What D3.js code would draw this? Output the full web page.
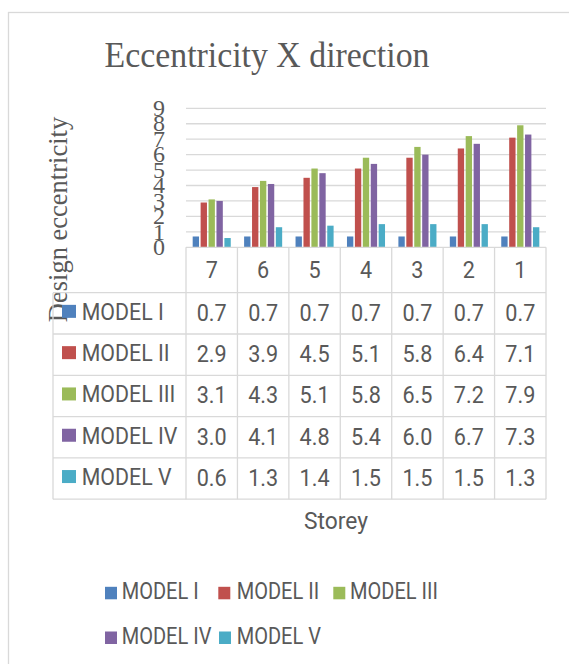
<!DOCTYPE html>
<html>
<head>
<meta charset="utf-8">
<script src="https://cdn.jsdelivr.net/npm/d3@7"></script>
<style>
  html, body { margin: 0; padding: 0; background: #fff; }
  svg { display: block; }
</style>
</head>
<body>
<svg id="chart" width="569" height="664"></svg>
<script>
// ---- data ----
const storeys = ["7", "6", "5", "4", "3", "2", "1"];
const seriesNames = ["MODEL I", "MODEL II", "MODEL III", "MODEL IV", "MODEL V"];
const model1 = [0.7, 0.7, 0.7, 0.7, 0.7, 0.7, 0.7];
const model2 = [2.9, 3.9, 4.5, 5.1, 5.8, 6.4, 7.1];
const model3 = [3.1, 4.3, 5.1, 5.8, 6.5, 7.2, 7.9];
const model4 = [3.0, 4.1, 4.8, 5.4, 6.0, 6.7, 7.3];
const model5 = [0.6, 1.3, 1.4, 1.5, 1.5, 1.5, 1.3];
const yTicks = [0, 1, 2, 3, 4, 5, 6, 7, 8, 9];
const colors = ["#4f81bd", "#c0504d", "#9bbb59", "#8064a2", "#4bacc6"];
const title = "Eccentricity X direction";
const yTitle = "Design eccentricity";
const xTitle = "Storey";

const seriesValues = [model1, model2, model3, model4, model5];
const series = seriesNames.map((n, i) => ({ name: n, values: seriesValues[i], color: colors[i] }));

// ---- layout ----
const svg = d3.select("#chart");
const textColor = "#595959";
const gridColor = "#d9d9d9";
const plotLeft = 186, plotRight = 546;
const plotTop = 108.3, plotBottom = 247.3;
const tableLeft = 53;
const headerBottom = 292.7;
const rowH = 41.3;

// outer border
svg.append("rect")
  .attr("x", 8.5).attr("y", 12.5).attr("width", 620).attr("height", 700)
  .attr("fill", "none").attr("stroke", gridColor).attr("stroke-width", 1.3);

// scales
const x0 = d3.scaleBand().domain(storeys).range([plotLeft, plotRight]).padding(0);
const bw = x0.bandwidth();
const x1 = d3.scaleBand().domain(seriesNames)
  .range([bw * 0.13, bw * 0.87]).paddingInner(0.2).paddingOuter(0);
const y = d3.scaleLinear().domain([0, 9]).range([plotBottom, plotTop]);

// title
svg.append("text")
  .attr("transform", "translate(267,66.5) scale(0.94,1)")
  .attr("text-anchor", "middle")
  .attr("font-family", "'Liberation Serif','Times New Roman',serif")
  .attr("font-size", 36)
  .attr("fill", textColor)
  .text(title);

// gridlines
svg.append("g").selectAll("line")
  .data(yTicks.filter(d => d > 0))
  .join("line")
  .attr("x1", plotLeft).attr("x2", plotRight)
  .attr("y1", d => y(d)).attr("y2", d => y(d))
  .attr("stroke", gridColor).attr("stroke-width", 1.3);

// y axis labels
const yAxis = d3.axisLeft(y).tickValues(yTicks).tickSize(0).tickPadding(21).tickFormat(d3.format("d"));
const yg = svg.append("g").attr("transform", `translate(${plotLeft},0)`).call(yAxis);
yg.select(".domain").remove();
yg.selectAll("text")
  .attr("font-family", "'Liberation Serif','Times New Roman',serif")
  .attr("font-size", 24)
  .attr("fill", textColor)
  .attr("dy", "0.3em");

// y title
svg.append("text")
  .attr("transform", "translate(67,219.5) rotate(-90)")
  .attr("text-anchor", "middle")
  .attr("font-family", "'Liberation Serif','Times New Roman',serif")
  .attr("font-size", 26.5)
  .attr("fill", textColor)
  .text(yTitle);

// bars
const groups = svg.append("g").selectAll("g")
  .data(storeys)
  .join("g")
  .attr("transform", d => `translate(${x0(d)},0)`);
groups.selectAll("rect")
  .data((d, i) => series.map(s => ({ name: s.name, value: s.values[i], color: s.color })))
  .join("rect")
  .attr("x", d => x1(d.name))
  .attr("width", x1.bandwidth())
  .attr("y", d => y(d.value))
  .attr("height", d => y(0) - y(d.value))
  .attr("fill", d => d.color);

// data table
const tbl = svg.append("g").attr("stroke", gridColor).attr("stroke-width", 1.3);
const rowYs = d3.range(series.length + 1).map(i => headerBottom + i * rowH);
const tableBottom = rowYs[rowYs.length - 1];
// header top line (axis baseline)
tbl.append("line").attr("x1", plotLeft).attr("x2", plotRight).attr("y1", plotBottom).attr("y2", plotBottom);
// row lines
tbl.selectAll("line.row").data(rowYs).join("line").attr("class", "row")
  .attr("x1", tableLeft).attr("x2", plotRight).attr("y1", d => d).attr("y2", d => d);
// column lines
const colXs = storeys.map(s => x0(s)).concat([plotRight]);
tbl.selectAll("line.col").data(colXs).join("line").attr("class", "col")
  .attr("x1", d => d).attr("x2", d => d).attr("y1", plotBottom).attr("y2", tableBottom);
tbl.append("line").attr("x1", tableLeft).attr("x2", tableLeft).attr("y1", headerBottom).attr("y2", tableBottom);

const sans = "Roboto, 'Open Sans', sans-serif";
// header categories
svg.append("g").selectAll("text")
  .data(storeys)
  .join("text")
  .attr("transform", d => `translate(${x0(d) + bw / 2},${(plotBottom + headerBottom) / 2 + 7.5}) scale(0.9,1)`)
  .attr("text-anchor", "middle")
  .attr("font-family", sans).attr("font-size", 24).attr("fill", textColor)
  .text(d => d);

// row labels with keys
const rows = svg.append("g").selectAll("g")
  .data(series)
  .join("g")
  .attr("transform", (d, i) => `translate(0,${rowYs[i] + rowH / 2})`);
rows.append("rect")
  .attr("x", 62).attr("y", -8.5).attr("width", 14).attr("height", 13)
  .attr("fill", d => d.color);
rows.append("text")
  .attr("transform", "translate(81.7,6.5) scale(0.89,1)")
  .attr("font-family", sans).attr("font-size", 24).attr("fill", textColor)
  .text(d => d.name);
rows.selectAll("text.val")
  .data(d => d.values.map((v, i) => ({ v, cat: storeys[i] })))
  .join("text").attr("class", "val")
  .attr("transform", d => `translate(${x0(d.cat) + bw / 2},7.5) scale(0.9,1)`)
  .attr("text-anchor", "middle")
  .attr("font-family", sans).attr("font-size", 24).attr("fill", textColor)
  .text(d => d3.format(".1f")(d.v));

// x title
svg.append("text")
  .attr("transform", "translate(336,529) scale(0.95,1)")
  .attr("text-anchor", "middle")
  .attr("font-family", sans).attr("font-size", 24).attr("fill", textColor)
  .text(xTitle);

// bottom legend
const legendPos = [
  { kx: 105, tx: 121.7, base: 599.3 },
  { kx: 218.3, tx: 236.7, base: 599.3 },
  { kx: 333.3, tx: 350, base: 599.3 },
  { kx: 105, tx: 121.7, base: 644 },
  { kx: 219, tx: 236.7, base: 644 }
];
const leg = svg.append("g").selectAll("g")
  .data(series)
  .join("g");
leg.append("rect")
  .attr("x", (d, i) => legendPos[i].kx)
  .attr("y", (d, i) => legendPos[i].base - 12.5)
  .attr("width", 12).attr("height", 12.5)
  .attr("fill", d => d.color);
leg.append("text")
  .attr("transform", (d, i) => `translate(${legendPos[i].tx},${legendPos[i].base}) scale(0.835,1)`)
  .attr("font-family", sans).attr("font-size", 24).attr("fill", textColor)
  .text(d => d.name);
</script>
</body>
</html>
